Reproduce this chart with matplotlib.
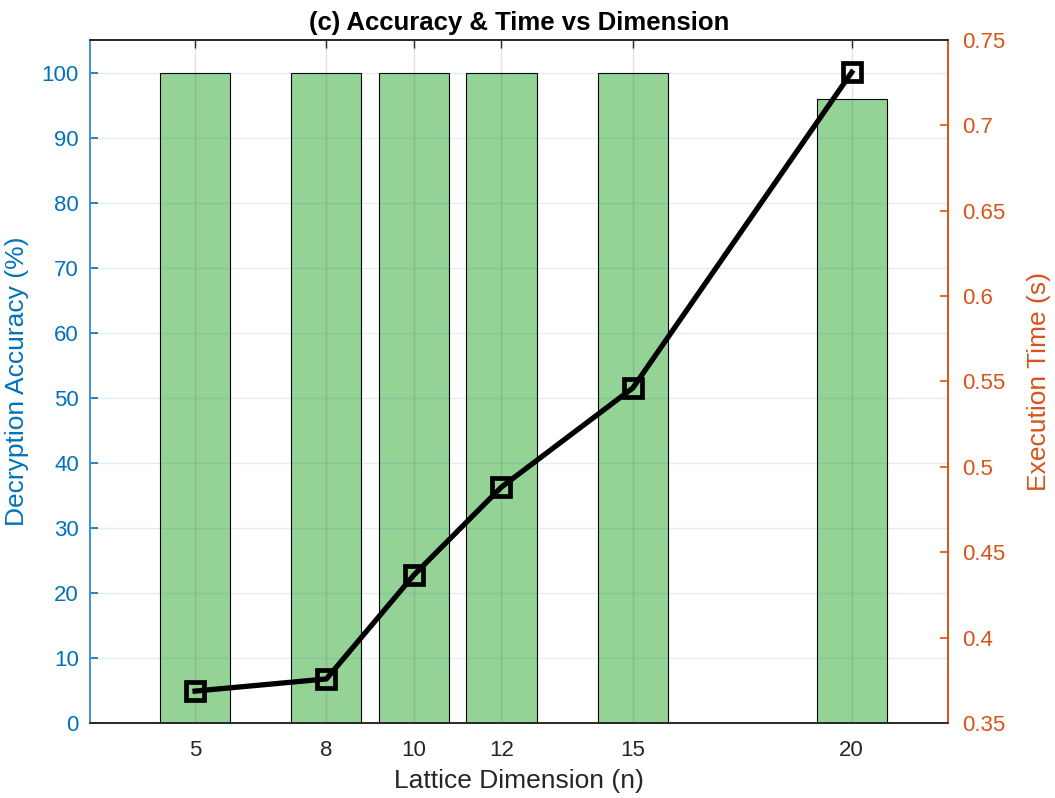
import matplotlib.pyplot as plt
import numpy as np

plt.rcParams['font.family'] = ['Liberation Sans', 'DejaVu Sans']

# ── Data ──────────────────────────────────────────────────────────────
dims     = [5, 8, 10, 12, 15, 20]
accuracy = [100, 100, 100, 100, 100, 96]
exec_time = [0.3687, 0.3758, 0.4367, 0.4882, 0.5462, 0.7311]
acc_ticks  = list(range(0, 101, 10))
time_ticks = [0.35, 0.4, 0.45, 0.5, 0.55, 0.6, 0.65, 0.7, 0.75]
time_labels = ["0.35", "0.4", "0.45", "0.5", "0.55", "0.6", "0.65", "0.7", "0.75"]
# ─────────────────────────────────────────────────────────────────────

BLUE   = "#0072BD"
ORANGE = "#D95319"
DARK   = "#262626"

fig = plt.figure(figsize=(10.55, 7.98), dpi=100)
ax = fig.add_axes([90 / 1055, 1 - 723 / 798, 858 / 1055, 683 / 798])
ax2 = ax.twinx()

ax.bar(dims, accuracy, width=1.6, color="#94D395", edgecolor="black",
       linewidth=0.8, zorder=2)
ax.set_xlim(2.6, 22.2)
ax.set_ylim(0, 105)
ax.set_xticks(dims)
ax.set_yticks(acc_ticks)

# grid: blue-ish horizontal lines from left axis, grey vertical ones
for y in acc_ticks:
    ax.axhline(y, color=BLUE, alpha=0.12, linewidth=1, zorder=3)
for x in dims:
    ax.axvline(x, color="#262626", alpha=0.12, linewidth=1, zorder=3)

ax2.plot(dims, exec_time, color="black", linewidth=3.8, marker="s",
         markersize=13, markerfacecolor="none", markeredgewidth=3.4,
         zorder=4)
ax2.set_ylim(0.35, 0.75)
ax2.set_yticks(time_ticks)
ax2.set_yticklabels(time_labels)

ax.set_zorder(1)
ax2.set_zorder(2)
ax.patch.set_visible(True)
ax2.patch.set_visible(False)

ax.tick_params(axis="x", direction="in", top=True, length=6, width=1,
               colors=DARK, labelsize=16, pad=12)
ax.tick_params(axis="y", direction="in", length=6, width=1.2,
               colors=BLUE, labelsize=16, pad=8)
ax2.tick_params(axis="y", direction="in", length=6, width=1.2,
                colors=ORANGE, labelsize=16, pad=10)
ax2.tick_params(axis="x", top=False, bottom=False)

for a in (ax, ax2):
    a.spines["top"].set_color(DARK)
    a.spines["bottom"].set_color(DARK)
    a.spines["left"].set_color("#3E92D2")
    a.spines["right"].set_color(ORANGE)
    for s in a.spines.values():
        s.set_linewidth(1.2)

ax.set_xlabel("Lattice Dimension (n)", fontsize=19, color=DARK, labelpad=6)
ax.set_ylabel("Decryption Accuracy (%)", fontsize=19, color=BLUE, labelpad=9)
ax2.set_ylabel("Execution Time (s)", fontsize=19, color=ORANGE, labelpad=16)
ax.set_title("(c) Accuracy & Time vs Dimension", fontsize=18.5,
             fontweight="bold", color="black", pad=7)

fig.savefig("out.png", dpi=100)
